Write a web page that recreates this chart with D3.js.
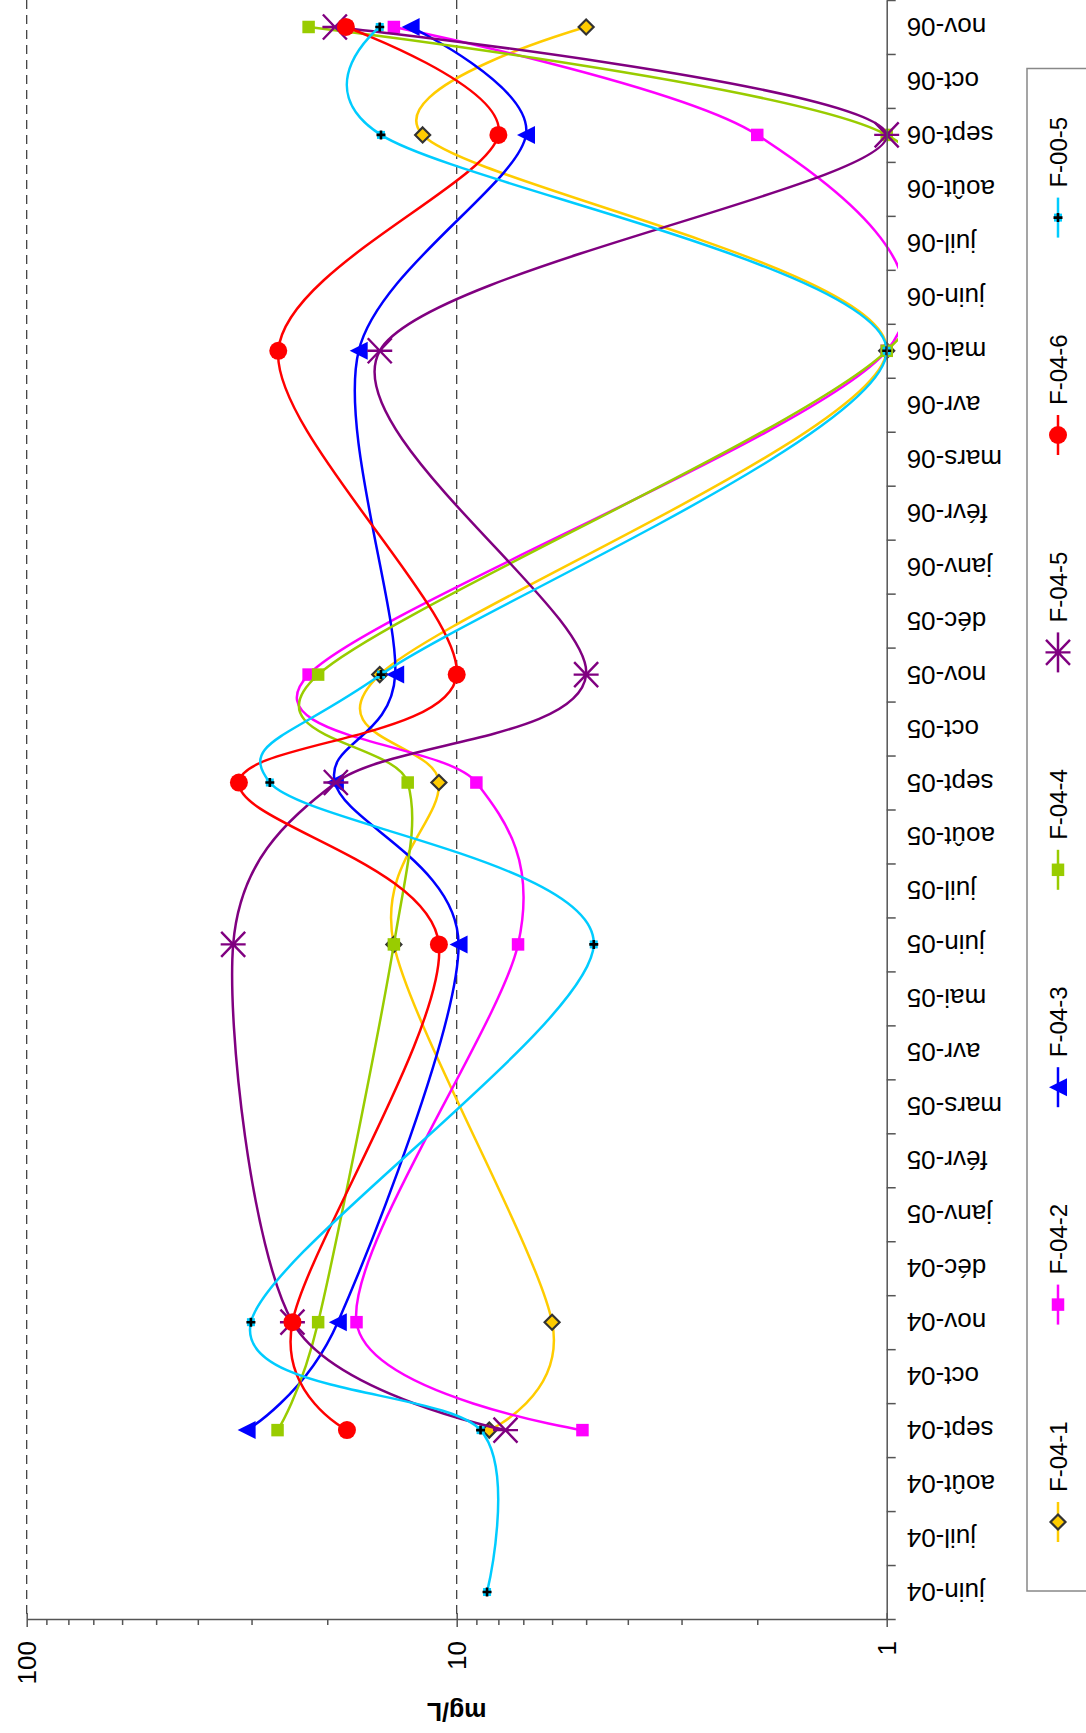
<!DOCTYPE html>
<html>
<head>
<meta charset="utf-8">
<script src="https://cdn.jsdelivr.net/npm/d3@7/dist/d3.min.js"></script>
<style>
  html, body { margin: 0; padding: 0; background: #fff; }
  svg { display: block; font-family: "Liberation Sans", Arial, sans-serif; }
</style>
</head>
<body>
<svg id="chart" width="1086" height="1733"></svg>
<script>
// Monthly categories of the campaign (June 2004 – November 2006)
const months = [
  "juin-04","juil-04","août-04","sept-04","oct-04","nov-04","déc-04",
  "janv-05","févr-05","mars-05","avr-05","mai-05","juin-05","juil-05","août-05",
  "sept-05","oct-05","nov-05","déc-05","janv-06","févr-06","mars-06","avr-06",
  "mai-06","juin-06","juil-06","août-06","sept-06","oct-06","nov-06"
];

// Sampling dates (the months where measurements exist)
const sampleMonths = ["juin-04","sept-04","nov-04","juin-05","sept-05","nov-05","mai-06","sept-06","nov-06"];

// Concentrations in mg/L for each well, aligned with sampleMonths (null = not sampled)
const f041 = [null, 8.4, 6.0, 14.0, 11.0, 15.1, 1, 12.0, 5.0];
const f042 = [null, 5.1, 17.1, 7.2, 9.0, 22.1, 1, 2.0, 14.0];
const f043 = [null, 30.8, 18.9, 9.9, 19.2, 13.9, 16.9, 6.9, 12.8];
const f044 = [null, 26.1, 21.0, 14.0, 13.0, 21.0, 1, 1, 22.1];
const f045 = [null, 7.7, 24.1, 33.1, 19.1, 5.0, 15.1, 1, 19.2];
const f046 = [null, 18.0, 24.1, 11.0, 32.1, 10.0, 26.0, 8.0, 18.1];
const f005 = [8.5, 8.8, 30.1, 4.8, 27.2, 15.0, 1, 15.0, 15.1];

const seriesNames = ["F-04-1","F-04-2","F-04-3","F-04-4","F-04-5","F-04-6","F-00-5"];
const seriesValues = [f041, f042, f043, f044, f045, f046, f005];
const seriesColors = ["#FFCC00","#FF00FF","#0000FF","#99CC00","#800080","#FF0000","#00CCFF"];
const seriesMarkers = ["diamond","square","triangle","square","star","circle","plus"];

// Log value axis tick labels
const majorTicks = [1, 10, 100];
const minorTicks = [2,3,4,5,6,7,8,9,20,30,40,50,60,70,80,90];

const svg = d3.select("#chart");
const FONT = 26;

// The chart is laid out turned a quarter turn: values run horizontally
// (100 on the left, 1 on the right) and months run upwards.
const axisX = 886.7;   // position of the category axis line
const axisY = 1619;    // position of the value axis line

const x = d3.scaleLog().domain([1, 100]).range([axisX, 26.7]);
const y = d3.scaleBand().domain(months).range([axisY, 0]).paddingInner(0).paddingOuter(0);
const yc = m => y(m) + y.bandwidth() / 2;

// Dashed major gridlines
svg.append("g").selectAll("line")
  .data([10, 100])
  .join("line")
  .attr("x1", d => x(d)).attr("x2", d => x(d))
  .attr("y1", 0).attr("y2", axisY)
  .attr("stroke", "#333").attr("stroke-width", 1.2)
  .attr("stroke-dasharray", "9,6");

// Clip for the smoothed lines
svg.append("defs").append("clipPath").attr("id", "plotClip")
  .append("rect").attr("x", 0).attr("y", -20).attr("width", 898).attr("height", axisY + 8);

// Marker drawing
function drawMarker(sel, type, color) {
  if (type === "diamond") {
    sel.append("path").attr("d", "M0,-7.5L7.5,0L0,7.5L-7.5,0Z")
      .attr("fill", color).attr("stroke", "#333").attr("stroke-width", 2.2);
  } else if (type === "square") {
    sel.append("path").attr("d", d3.symbol(d3.symbolSquare, 12.5 * 12.5)())
      .attr("fill", color);
  } else if (type === "triangle") {
    sel.append("path").attr("d", "M-9,0L9,-9L9,9Z").attr("fill", color);
  } else if (type === "circle") {
    sel.append("circle").attr("r", 9).attr("fill", color);
  } else if (type === "star") {
    sel.append("path")
      .attr("d", "M-12.5,0L12.5,0M-12,-12.5L12,12.5M-12,12.5L12,-12.5")
      .attr("fill", "none").attr("stroke", color).attr("stroke-width", 2.4);
  } else if (type === "plus") {
    sel.append("rect").attr("x", -4).attr("y", -4).attr("width", 8).attr("height", 8).attr("fill", color);
    sel.append("path").attr("d", "M-4.5,0L4.5,0M0,-4.5L0,4.5")
      .attr("stroke", "#000").attr("stroke-width", 2.6);
  }
}

const line = d3.line()
  .x(d => x(d.v))
  .y(d => yc(d.m))
  .curve(d3.curveCardinal.tension(0.1));

// Series: smoothed line then markers, in legend order
seriesNames.forEach((name, i) => {
  const pts = sampleMonths
    .map((m, j) => ({ m, v: seriesValues[i][j] }))
    .filter(d => d.v != null);
  const g = svg.append("g");
  g.append("path")
    .attr("clip-path", "url(#plotClip)")
    .attr("d", line(pts))
    .attr("fill", "none")
    .attr("stroke", seriesColors[i])
    .attr("stroke-width", 2.5);
  g.selectAll("g.mk").data(pts).join("g")
    .attr("class", "mk")
    .attr("transform", d => `translate(${x(d.v)},${yc(d.m)})`)
    .each(function () { drawMarker(d3.select(this), seriesMarkers[i], seriesColors[i]); });
});

// Value axis (log) along the bottom
const valueAxis = svg.append("g").attr("transform", `translate(0,${axisY})`)
  .call(d3.axisBottom(x).tickValues(majorTicks).tickFormat(d3.format("d")).tickSizeOuter(0).tickSizeInner(8).tickPadding(0));
valueAxis.select(".domain").attr("stroke", "#555").attr("stroke-width", 1.5);
valueAxis.selectAll(".tick line").attr("y1", -6).attr("y2", 8).attr("stroke", "#555").attr("stroke-width", 1.5);
valueAxis.selectAll(".tick text")
  .attr("y", null).attr("dy", null)
  .attr("transform", "translate(0,22) rotate(-90)")
  .attr("text-anchor", "end")
  .attr("dominant-baseline", "central")
  .attr("font-size", FONT)
  .attr("font-family", "Liberation Sans, Arial, sans-serif")
  .attr("fill", "#000");

const minorAxis = svg.append("g").attr("transform", `translate(0,${axisY})`)
  .call(d3.axisBottom(x).tickValues(minorTicks).tickFormat("").tickSizeOuter(0).tickSizeInner(6));
minorAxis.select(".domain").remove();
minorAxis.selectAll(".tick line").attr("stroke", "#555").attr("stroke-width", 1.5);

// Axis title
svg.append("text")
  .attr("transform", `translate(${(x(1) + x(100)) / 2},1712) rotate(180)`)
  .attr("text-anchor", "middle")
  .attr("dominant-baseline", "central")
  .attr("font-size", 25)
  .attr("font-weight", "bold")
  .text("mg/L");

// Category axis along the right side, ticks between months
const boundary = d3.scaleLinear().domain([0, months.length]).range([axisY, 0]);
const tickAxis = svg.append("g").attr("transform", `translate(${axisX},0)`)
  .call(d3.axisRight(boundary).tickValues(d3.range(months.length + 1)).tickFormat("").tickSizeOuter(0).tickSizeInner(9));
tickAxis.select(".domain").attr("stroke", "#555").attr("stroke-width", 1.5);
tickAxis.selectAll(".tick line").attr("stroke", "#555").attr("stroke-width", 1.5);

const catAxis = svg.append("g").attr("transform", `translate(${axisX},0)`)
  .call(d3.axisRight(y).tickSize(0).tickPadding(0));
catAxis.select(".domain").remove();
catAxis.selectAll(".tick text")
  .attr("x", null).attr("dy", null)
  .attr("transform", "translate(20,0) rotate(180)")
  .attr("text-anchor", "end")
  .attr("dominant-baseline", "central")
  .attr("font-size", FONT)
  .attr("font-family", "Liberation Sans, Arial, sans-serif")
  .attr("fill", "#000");

// Legend
const legend = svg.append("g");
legend.append("rect")
  .attr("x", 1027).attr("y", 68.5).attr("width", 100).attr("height", 1522.5)
  .attr("fill", "#fff").attr("stroke", "#888").attr("stroke-width", 1.5);
const legendY = i => 1522 - i * 217.4;
seriesNames.forEach((name, i) => {
  const g = legend.append("g").attr("transform", `translate(1058,${legendY(i)})`);
  g.append("line").attr("x1", 0).attr("x2", 0).attr("y1", -20).attr("y2", 20)
    .attr("stroke", seriesColors[i]).attr("stroke-width", 2.5);
  const mk = g.append("g");
  drawMarker(mk, seriesMarkers[i], seriesColors[i]);
  g.append("text")
    .attr("transform", "translate(0,-30) rotate(-90)")
    .attr("text-anchor", "start")
    .attr("dominant-baseline", "central")
    .attr("font-size", 24)
    .text(name);
});
</script>
</body>
</html>
